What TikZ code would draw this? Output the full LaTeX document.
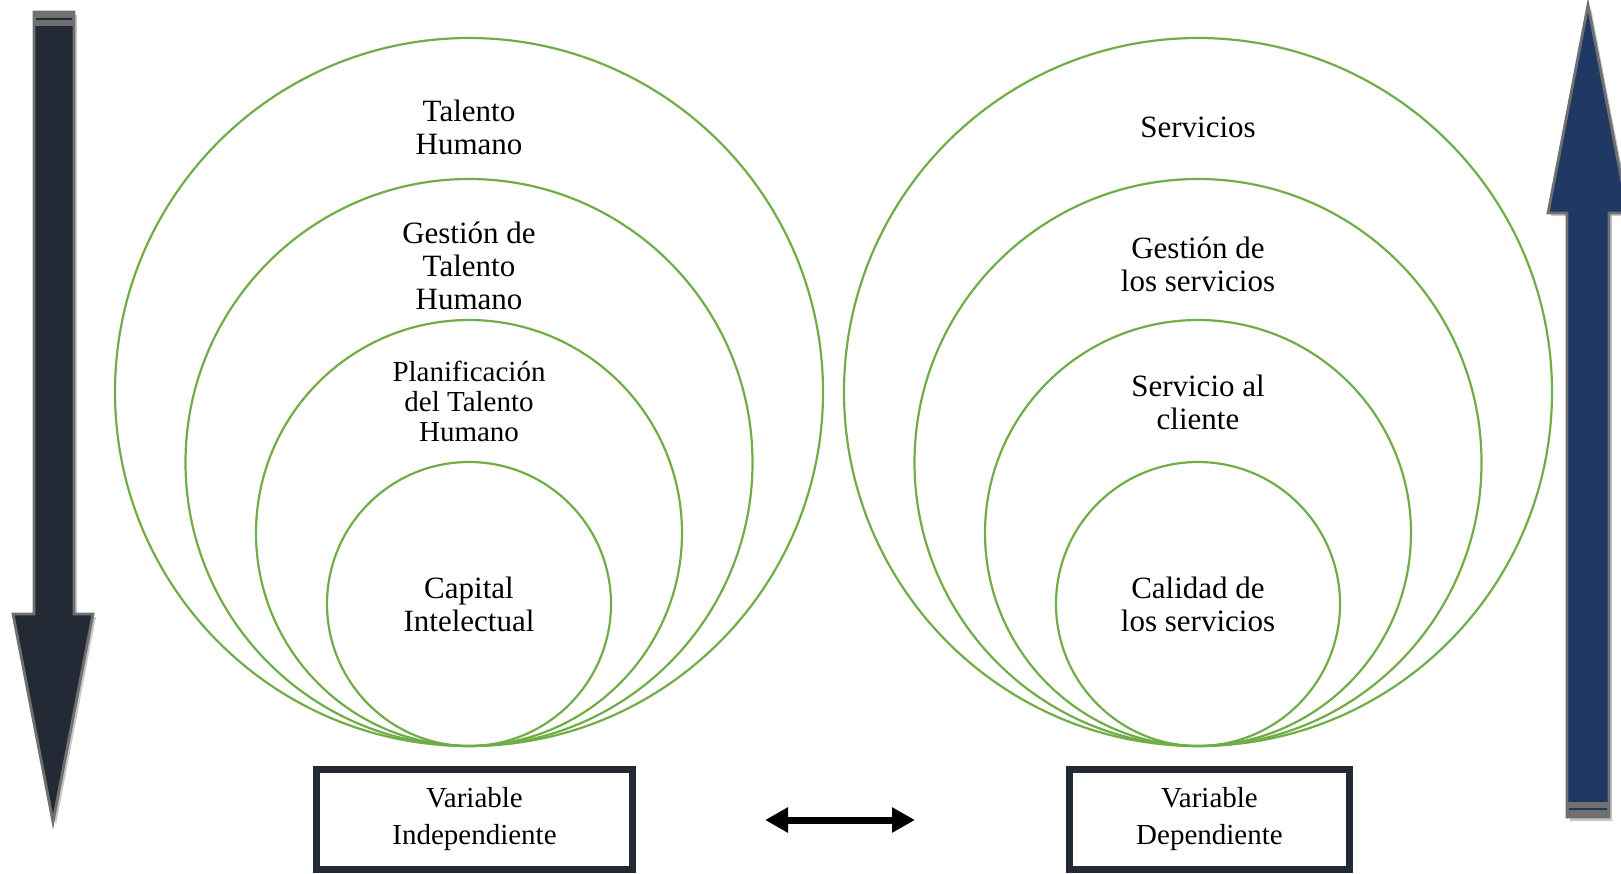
\documentclass[tikz,border=0pt]{standalone}
\usepackage{fontspec}
\setmainfont{Liberation Serif}
\usetikzlibrary{arrows.meta}
\definecolor{ringgreen}{HTML}{70AD47}
\definecolor{darkslate}{HTML}{232A36}
\definecolor{navyblue}{HTML}{203864}
\definecolor{edgegray}{HTML}{707070}
\definecolor{shadowgray}{HTML}{C8C8C8}
\begin{document}
\begin{tikzpicture}[x=0.5pt,y=-0.5pt,
  ring/.style={circle,draw=ringgreen,line width=1.1pt,inner sep=0pt},
  lbl/.style={align=center,inner sep=0pt,font=\fontsize{15.5}{16.5}\selectfont},
  lblsmall/.style={align=center,inner sep=0pt,font=\fontsize{14.5}{15.2}\selectfont},
  varbox/.style={draw=darkslate,line width=3.5pt,align=center,inner sep=0pt,font=\fontsize{14.5}{18.5}\selectfont},
  bigarrow/.style={draw=edgegray,line width=1.4pt,line join=miter},
  dbl/.style={{Triangle[length=11.5pt,width=12pt]}-{Triangle[length=11.5pt,width=12pt]},line width=3.5pt,black}
]
\useasboundingbox (0,0) rectangle (1621,873);

% left circles
\node[ring,minimum size=354pt] (l1) at (469,392) {};
\node[ring,minimum size=283.5pt] (l2) at (469,462.5) {};
\node[ring,minimum size=213pt] (l3) at (469,533) {};
\node[ring,minimum size=142pt] (l4) at (469,604) {};
% right circles
\node[ring,minimum size=354pt] (r1) at (1198,392) {};
\node[ring,minimum size=283.5pt] (r2) at (1198,462.5) {};
\node[ring,minimum size=213pt] (r3) at (1198,533) {};
\node[ring,minimum size=142pt] (r4) at (1198,604) {};

% left labels
\node[lbl] (tl1) at (469,127) {Talento\\Humano};
\node[lbl] (tl2) at (469,265.5) {Gestión de\\Talento\\Humano};
\node[lblsmall] (tl3) at (469,401.5) {Planificación\\del Talento\\Humano};
\node[lbl] (tl4) at (469,604.5) {Capital\\Intelectual};
% right labels
\node[lbl] (tr1) at (1198,127) {Servicios};
\node[lbl] (tr2) at (1198,264.5) {Gestión de\\los servicios};
\node[lbl] (tr3) at (1198,402) {Servicio al\\cliente};
\node[lbl] (tr4) at (1198,604.5) {Calidad de\\los servicios};

% boxes
\node[varbox,minimum width=158pt,minimum height=50pt] (vi) at (474.5,819.5) {Variable\\Independiente};
\node[varbox,minimum width=140pt,minimum height=50pt] (vd) at (1209.5,819.5) {Variable\\Dependiente};

% double arrow
\coordinate (dl) at (765,820);
\coordinate (dr) at (915,820);
\draw[dbl] (dl) -- (dr);

% left big arrow (down)
\fill[shadowgray] (37,15) -- (77,15) -- (77,617) -- (96,617) -- (56,825) -- (16,617) -- (37,617) -- cycle;
\draw[bigarrow,fill=darkslate] (34,12) -- (74,12) -- (74,614) -- (93,614) -- (53,822) -- (13,614) -- (34,614) -- cycle;
\fill[edgegray] (34,11) rectangle (74,26);
\draw[darkslate,line width=1pt] (36,19) -- (72,19);

% right big arrow (up)
\fill[shadowgray] (1591,8) -- (1631,216) -- (1612,216) -- (1612,821) -- (1570,821) -- (1570,216) -- (1551,216) -- cycle;
\draw[bigarrow,fill=navyblue] (1588,5) -- (1628,213) -- (1609,213) -- (1609,817) -- (1567,817) -- (1567,213) -- (1548,213) -- cycle;
\fill[edgegray] (1567,802) rectangle (1609,818);
\draw[navyblue,line width=1pt] (1569,808.5) -- (1607,808.5);
\end{tikzpicture}
\end{document}
